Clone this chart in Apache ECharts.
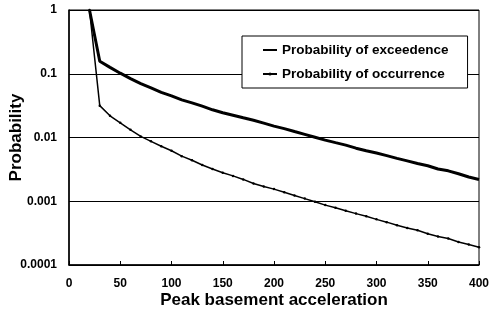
<!DOCTYPE html>
<html>
<head>
<meta charset="utf-8">
<script src="https://cdn.jsdelivr.net/npm/echarts@6/dist/echarts.min.js"></script>
<style>
  html, body { margin: 0; padding: 0; background: #fff; }
  #chart { width: 489px; height: 311px; }
</style>
</head>
<body>
<div id="chart"></div>
<script>
// peak basement acceleration (x)
const accel = [20, 30, 40, 50, 60, 70, 80, 90, 100, 110, 120, 130, 140, 150, 160, 170, 180, 190, 200,
  210, 220, 230, 240, 250, 260, 270, 280, 290, 300, 310, 320, 330, 340, 350, 360, 370, 380, 390, 400];

// probability of exceedence
const exceed = [1, 0.157, 0.126, 0.102, 0.084, 0.070, 0.060, 0.051, 0.045, 0.039, 0.035, 0.031, 0.0272,
  0.0245, 0.0224, 0.0204, 0.0186, 0.0168, 0.0151, 0.0138, 0.0124, 0.0112, 0.0101, 0.0091, 0.0083,
  0.0076, 0.0068, 0.0062, 0.0057, 0.0052, 0.0047, 0.0043, 0.0039, 0.0036, 0.0032, 0.0030, 0.0027,
  0.0024, 0.0022];

// probability of occurrence
const occur = [1, 0.0316, 0.0219, 0.0170, 0.0132, 0.0104, 0.0087, 0.0073, 0.0062, 0.0051, 0.0044,
  0.0037, 0.0032, 0.0028, 0.0025, 0.0022, 0.0019, 0.0017, 0.00155, 0.00138, 0.00123, 0.0011, 0.00098,
  0.00087, 0.00079, 0.00071, 0.00064, 0.00058, 0.00052, 0.00047, 0.00042, 0.00038, 0.00035, 0.00031,
  0.00028, 0.00026, 0.00023, 0.00021, 0.00019];

// y tick labels, top to bottom
const yTicks = ['1', '0.1', '0.01', '0.001', '0.0001'];

const seriesNames = ['Probability of exceedence', 'Probability of occurrence'];

const font = 'Liberation Sans, Arial, sans-serif';
let chart = echarts.init(document.getElementById('chart'), null, { renderer: 'canvas' });

const option = {
    animation: false,
    backgroundColor: '#fff',
    grid: {
        left: 69, right: 10, top: 10, bottom: 46,
        containLabel: false, outerBoundsMode: 'none',
        show: true, borderColor: '#000', borderWidth: 1
    },
    legend: {
        orient: 'vertical',
        left: 242, top: 36,
        padding: [6, 19, 6, 20],
        itemWidth: 14, itemHeight: 4, itemGap: 8,
        backgroundColor: '#fff',
        borderColor: '#000', borderWidth: 1,
        textStyle: { fontFamily: font, fontWeight: 'bold', fontSize: 13.5, color: '#000', lineHeight: 16 },
        data: [
            { name: seriesNames[0], itemStyle: { opacity: 0 } },
            { name: seriesNames[1] }
        ]
    },
    xAxis: {
        type: 'value',
        min: 0, max: 400, interval: 50,
        name: 'Peak basement acceleration',
        nameLocation: 'middle', nameGap: 27, nameMoveOverlap: false,
        nameTextStyle: { fontFamily: font, fontWeight: 'bold', fontSize: 17, color: '#000', verticalAlign: 'top' },
        axisLine: { lineStyle: { color: '#000', width: 1.5 } },
        axisTick: { inside: true, length: 4, lineStyle: { color: '#000' } },
        axisLabel: { margin: 13, fontFamily: font, fontWeight: 'bold', fontSize: 12, color: '#000' },
        splitLine: { show: false }
    },
    yAxis: {
        type: 'log', logBase: 10,
        min: 0.0001, max: 1,
        name: 'Probability',
        nameLocation: 'middle', nameGap: 44, nameMoveOverlap: false,
        nameTextStyle: { fontFamily: font, fontWeight: 'bold', fontSize: 17, color: '#000' },
        axisLine: { show: true, lineStyle: { color: '#000', width: 1.5 } },
        axisTick: { show: false },
        axisLabel: {
            margin: 12, fontFamily: font, fontWeight: 'bold', fontSize: 12, color: '#000',
            formatter: function (v) {
                return yTicks[-Math.round(Math.log10(v))];
            }
        },
        splitLine: { show: true, lineStyle: { color: '#000', width: 1 } }
    },
    series: [
        {
            name: seriesNames[0],
            type: 'line',
            data: accel.map((x, i) => [x, exceed[i]]),
            showSymbol: false, symbol: 'none',
            lineStyle: { color: '#000', width: 3 },
            itemStyle: { color: '#000' }
        },
        {
            name: seriesNames[1],
            type: 'line',
            data: accel.map((x, i) => [x, occur[i]]),
            symbol: 'circle', symbolSize: 2.5, showSymbol: true,
            lineStyle: { color: '#000', width: 1.5 },
            itemStyle: { color: '#000' }
        }
    ]
};

chart.setOption(option);
</script>
</body>
</html>
